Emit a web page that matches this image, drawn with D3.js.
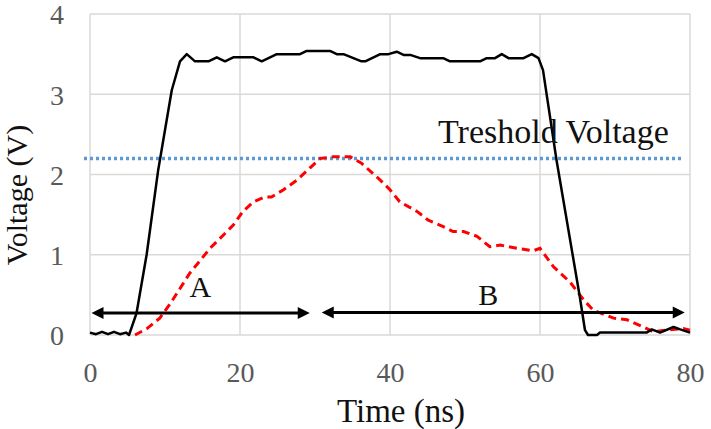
<!DOCTYPE html>
<html>
<head>
<meta charset="utf-8">
<script src="https://cdn.jsdelivr.net/npm/d3@7"></script>
<style>
  html, body { margin: 0; padding: 0; background: #fff; }
  svg { display: block; }
</style>
</head>
<body>
<svg id="chart" width="711" height="429"></svg>
<script>
// ---- data ----
const xTicks = [0, 20, 40, 60, 80];
const yTicks = [0, 1, 2, 3, 4];
const thresholdValue = 2.2;
const thresholdRange = [-0.8, 79];
const thresholdLabel = "Treshold Voltage";

const blackTime = [0, 0.8, 1.6, 2.4, 3.2, 4, 4.8, 5.2, 6.2, 7.55, 9.1, 10.9, 12, 12.9, 14, 15.8, 16.9, 18, 19.1, 21.8, 22.9, 24.9, 28, 28.9, 32, 32.9, 33.8, 36.2, 36.7, 38.7, 39.8, 40.9, 41.8, 42.7, 44, 47.1, 48, 52, 52.9, 54, 54.9, 55.8, 57.8, 58.9, 59.8, 60.4, 62.2, 65.3, 66, 66.4, 67.6, 68, 74.2, 74.9, 76, 77.8, 78.7, 80];
const blackVolt = [0.03, 0.01, 0.04, 0.01, 0.04, 0.01, 0.03, 0.0, 0.27, 1.0, 2.06, 3.05, 3.41, 3.50, 3.41, 3.41, 3.46, 3.41, 3.46, 3.46, 3.41, 3.50, 3.50, 3.54, 3.54, 3.50, 3.50, 3.41, 3.41, 3.50, 3.50, 3.53, 3.49, 3.49, 3.45, 3.45, 3.41, 3.41, 3.45, 3.45, 3.50, 3.45, 3.45, 3.50, 3.45, 3.30, 2.18, 0.48, 0.06, 0.0, 0.0, 0.03, 0.03, 0.07, 0.03, 0.10, 0.07, 0.03];

const redTime = [6.0, 7.6, 9.3, 10.7, 12, 13.3, 14.7, 16, 17.3, 19.1, 20.4, 21.8, 23.3, 24.2, 25.8, 27.6, 29.3, 30.7, 32.4, 34.7, 36.2, 38.7, 40, 41.3, 43.6, 45.1, 47.1, 48.4, 49.8, 51.6, 53.3, 54.7, 56.9, 59.1, 60, 61.8, 64, 65.8, 67.1, 69.8, 71.6, 73.8, 75.1, 76.9, 79.1, 80];
const redVolt = [0, 0.08, 0.21, 0.39, 0.58, 0.77, 0.93, 1.08, 1.20, 1.37, 1.54, 1.66, 1.72, 1.72, 1.81, 1.93, 2.08, 2.20, 2.22, 2.22, 2.14, 1.93, 1.81, 1.66, 1.54, 1.43, 1.35, 1.29, 1.29, 1.23, 1.10, 1.12, 1.08, 1.05, 1.08, 0.85, 0.66, 0.44, 0.31, 0.21, 0.19, 0.10, 0.04, 0.06, 0.08, 0.06];

const arrowNames = ["A", "B"];
const arrowStart = [0.2, 30.9];
const arrowEnd = [29.3, 79.3];
const arrowLevel = [0.275, 0.28];
const labelTime = [14.7, 53.1];
const labelVolt = [0.47, 0.37];

// ---- layout ----
const svg = d3.select("#chart");
const x = d3.scaleLinear().domain([0, 80]).range([90, 690]);
const y = d3.scaleLinear().domain([0, 4]).range([335, 14]);

const serif = "'Liberation Serif', 'Times New Roman', serif";

// gridlines
svg.append("g").selectAll("line").data(yTicks).join("line")
  .attr("x1", x(0)).attr("x2", x(80))
  .attr("y1", d => y(d)).attr("y2", d => y(d))
  .attr("stroke", "#d9d9d9").attr("stroke-width", 1.5);
svg.append("g").selectAll("line").data(xTicks).join("line")
  .attr("y1", y(0)).attr("y2", y(4))
  .attr("x1", d => x(d)).attr("x2", d => x(d))
  .attr("stroke", "#d9d9d9").attr("stroke-width", 1.5);

// axes (labels only)
const xAxis = d3.axisBottom(x).tickValues(xTicks).tickFormat(d3.format("d")).tickSize(0).tickPadding(0);
const gx = svg.append("g").attr("transform", `translate(0,${y(0)})`).call(xAxis);
gx.select(".domain").remove();
gx.selectAll("text").attr("dy", null).attr("y", 47)
  .attr("font-family", serif).attr("font-size", 28).attr("fill", "#595959");

const yAxis = d3.axisLeft(y).tickValues(yTicks).tickFormat(d3.format("d")).tickSize(0).tickPadding(0);
const gy = svg.append("g").attr("transform", `translate(64,0)`).call(yAxis);
gy.select(".domain").remove();
gy.selectAll("text").attr("dy", "0.35em").attr("x", 0)
  .attr("font-family", serif).attr("font-size", 28).attr("fill", "#595959");

// axis titles
svg.append("text").attr("x", 401).attr("y", 422).attr("text-anchor", "middle")
  .attr("font-family", serif).attr("font-size", 33).attr("fill", "#111")
  .text("Time (ns)");
svg.append("text").attr("transform", "translate(27,195) rotate(-90)")
  .attr("text-anchor", "middle")
  .attr("font-family", serif).attr("font-size", 30).attr("fill", "#111")
  .text("Voltage (V)");

// threshold
svg.append("line")
  .attr("x1", x(thresholdRange[0])).attr("x2", x(thresholdRange[1]))
  .attr("y1", y(thresholdValue)).attr("y2", y(thresholdValue))
  .attr("stroke", "#5B9BD5").attr("stroke-width", 3.5)
  .attr("stroke-dasharray", "3,3");

// series
const line = d3.line().x(d => x(d[0])).y(d => y(d[1]));
const redData = redTime.map((t, i) => [t, redVolt[i]]);
const blackData = blackTime.map((t, i) => [t, blackVolt[i]]);

svg.append("path").datum(redData).attr("d", line)
  .attr("fill", "none").attr("stroke", "#FF0000").attr("stroke-width", 3)
  .attr("stroke-dasharray", "8,5");

svg.append("path").datum(blackData).attr("d", line)
  .attr("fill", "none").attr("stroke", "#000").attr("stroke-width", 2.5)
  .attr("stroke-linejoin", "round");

// threshold label
svg.append("text").attr("x", x(46.4)).attr("y", y(2.39))
  .attr("font-family", serif).attr("font-size", 34).attr("fill", "#111")
  .text(thresholdLabel);

// arrows
const headL = 12, headH = 6;
arrowNames.forEach((name, i) => {
  const x1 = x(arrowStart[i]), x2 = x(arrowEnd[i]), yy = y(arrowLevel[i]);
  svg.append("line").attr("x1", x1 + headL - 1).attr("x2", x2 - headL + 1)
    .attr("y1", yy).attr("y2", yy).attr("stroke", "#000").attr("stroke-width", 3);
  svg.append("path")
    .attr("d", `M${x1},${yy} L${x1 + headL},${yy - headH} L${x1 + headL},${yy + headH} Z`)
    .attr("fill", "#000");
  svg.append("path")
    .attr("d", `M${x2},${yy} L${x2 - headL},${yy - headH} L${x2 - headL},${yy + headH} Z`)
    .attr("fill", "#000");
  svg.append("text").attr("x", x(labelTime[i])).attr("y", y(labelVolt[i]))
    .attr("text-anchor", "middle")
    .attr("font-family", serif).attr("font-size", 30).attr("fill", "#111")
    .text(name);
});
</script>
</body>
</html>
